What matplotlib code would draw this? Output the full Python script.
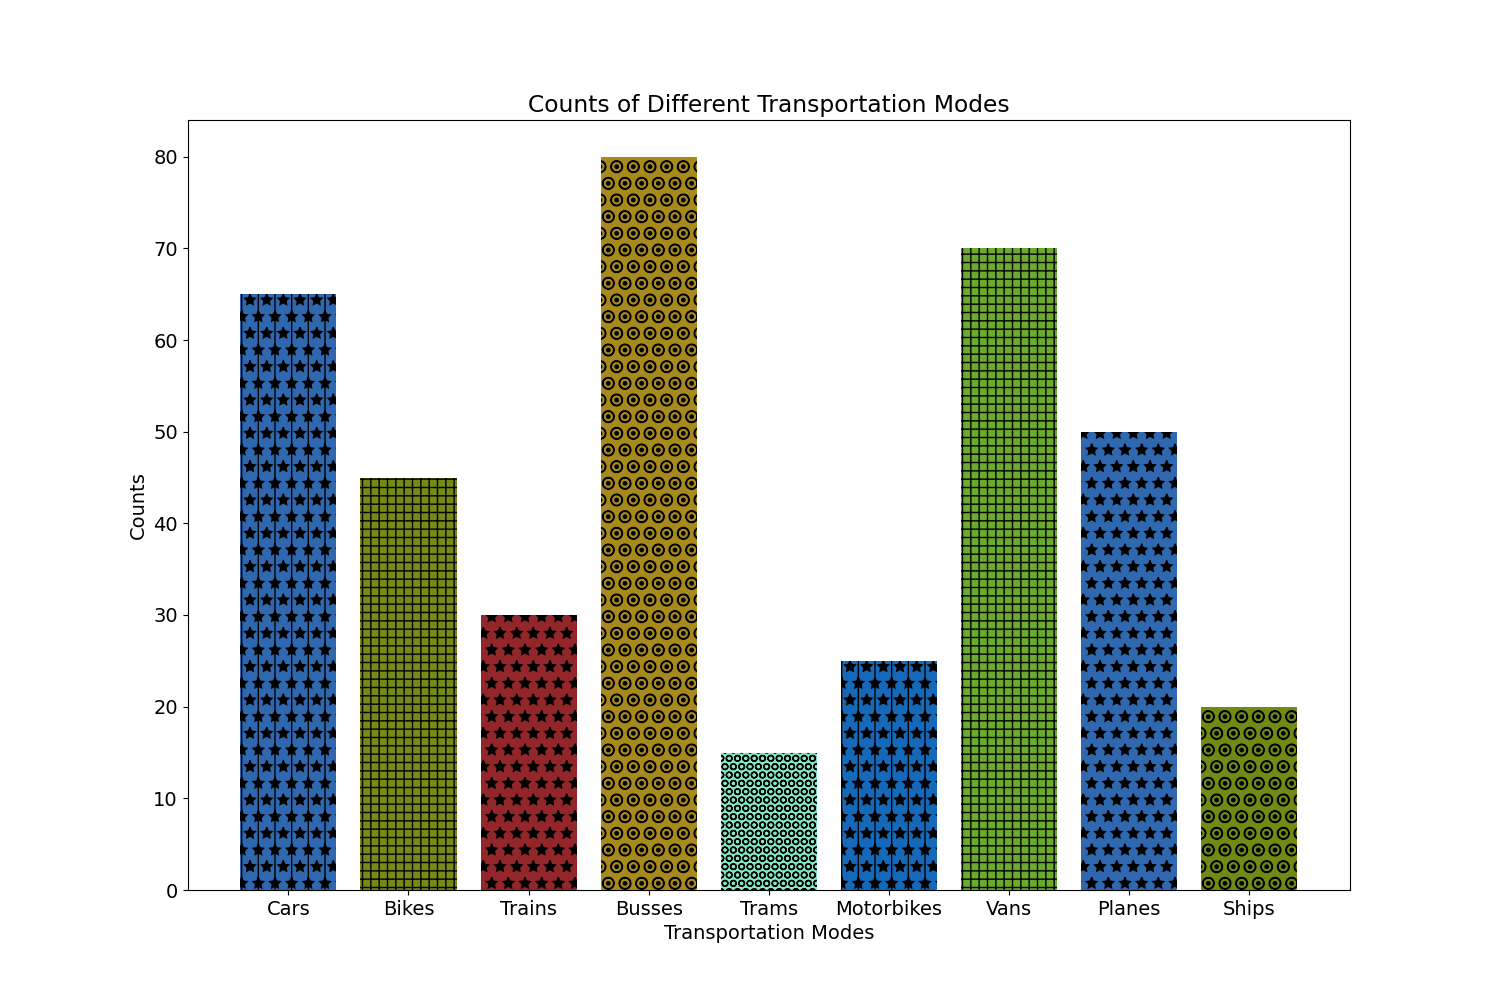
import matplotlib
matplotlib.use('Agg')
import matplotlib.pyplot as plt

modes = ['Cars', 'Bikes', 'Trains', 'Busses', 'Trams', 'Motorbikes', 'Vans', 'Planes', 'Ships']
counts = [65, 45, 30, 80, 15, 25, 70, 50, 20]
colors = ['#3068b0', '#768a18', '#92262a', '#a88a1c', '#80e8c4', '#1668b8', '#6aaa2c', '#3068b0', '#708a14']
hatches = ['|*', '++', '*', 'O.', 'OO', '|*', '++', '*', 'O.']

plt.rcParams['font.size'] = 14

fig = plt.figure(figsize=(15, 10), dpi=100)
ax = plt.gca()

bars = ax.bar(modes, counts, color=colors, edgecolor='black', linewidth=0)
for b, h in zip(bars, hatches):
    b.set_hatch(h)

ax.set_title('Counts of Different Transportation Modes')
ax.set_xlabel('Transportation Modes')
ax.set_ylabel('Counts')

fig.savefig('out.png')
